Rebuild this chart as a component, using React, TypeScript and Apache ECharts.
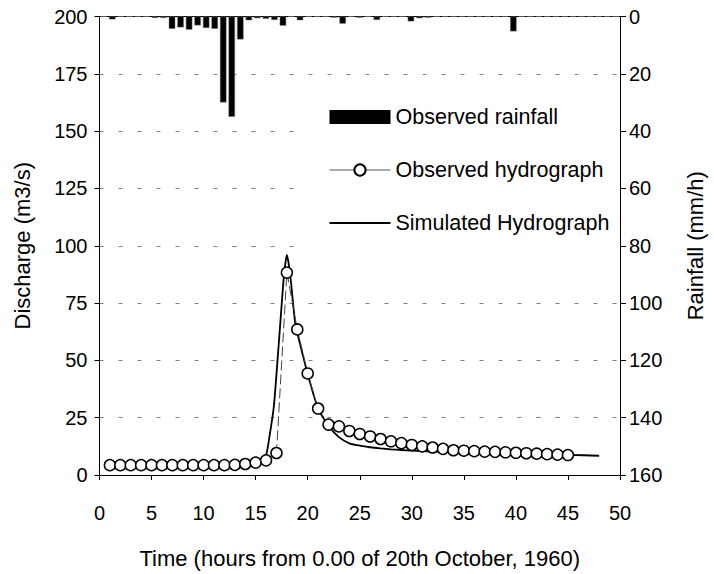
import React, { useEffect, useRef } from "react";
import * as echarts from "echarts";

// Rainfall (mm/h) on 61 equal time steps spanning the 50-hour window
const rainSteps: string[] = [
  "0", "1", "2", "3", "4", "5", "6", "7", "8", "9",
  "10", "11", "12", "13", "14", "15", "16", "17", "18", "19",
  "20", "21", "22", "23", "24", "25", "26", "27", "28", "29",
  "30", "31", "32", "33", "34", "35", "36", "37", "38", "39",
  "40", "41", "42", "43", "44", "45", "46", "47", "48", "49",
  "50", "51", "52", "53", "54", "55", "56", "57", "58", "59", "60",
];
const rainfall: number[] = [
  0, 1.0, 0, 0, 0, 0, 0.5, 0.5, 4.3, 3.8,
  4.6, 3.1, 4.0, 4.3, 30, 35, 8, 1.3, 0.6, 0.8,
  1.2, 3.2, 0, 1.3, 0, 0, 0, 0.4, 2.5, 0,
  0.4, 0, 1.2, 0, 0, 0, 1.7, 0.6, 0.4, 0,
  0, 0, 0, 0, 0, 0, 0, 0, 5.2, 0,
  0, 0, 0, 0, 0, 0, 0, 0, 0, 0, 0,
];

// Observed hydrograph (hours, m3/s)
const obsHours: number[] = [
  1, 2, 3, 4, 5, 6, 7, 8, 9, 10, 11, 12, 13, 14, 15, 16, 17, 18, 19, 20,
  21, 22, 23, 24, 25, 26, 27, 28, 29, 30, 31, 32, 33, 34, 35, 36, 37, 38, 39, 40,
  41, 42, 43, 44, 45,
];
const obsDischarge: number[] = [
  4.3, 4.3, 4.3, 4.3, 4.3, 4.3, 4.3, 4.3, 4.3, 4.3, 4.3, 4.3, 4.4, 4.8, 5.4, 6.4, 9.6, 88.3, 63.5, 44.3,
  29, 22, 21.2, 19.2, 17.9, 16.8, 15.7, 14.7, 13.9, 13.1, 12.5, 12, 11.4, 10.8, 10.6, 10.4, 10.2, 10.1, 9.9, 9.7,
  9.5, 9.3, 9.1, 8.9, 8.7,
];

// Simulated hydrograph (hours, m3/s)
const simHours: number[] = [
  1, 5, 10, 14, 15, 15.5, 16, 16.3, 16.75, 17.25, 17.7, 18, 18.3, 18.8, 19, 20, 21, 22, 23, 24,
  25, 26, 27, 28, 29, 30, 32, 35, 38, 40, 43, 45, 48,
];
const simDischarge: number[] = [
  4.3, 4.3, 4.3, 4.5, 5.2, 6.5, 8.7, 16, 30, 59, 86, 96, 88, 66, 62, 44, 29, 21.5, 16.5, 13.8,
  12.8, 12.1, 11.6, 11.2, 10.9, 10.6, 10.2, 9.8, 9.5, 9.3, 9, 8.8, 8.4,
];

const xTitle = "Time (hours from 0.00 of 20th October, 1960)";
const yLeftTitle = "Discharge (m3/s)";
const yRightTitle = "Rainfall (mm/h)";

export default function App() {
  const ref = useRef<HTMLDivElement>(null);
  useEffect(() => {
    if (!ref.current) return;
    const chart = echarts.init(ref.current, undefined, { renderer: "svg" });
    const font = "'Liberation Sans', Arial, sans-serif";
    const black = "#000";
    const option: any = {
      animation: false,
      backgroundColor: "#fff",
      textStyle: { fontFamily: font, color: black },
      grid: { left: 99.5, right: 91.3, top: 16.5, bottom: 98.5, containLabel: false },
      legend: {
        orient: "vertical",
        left: 300,
        top: 93,
        backgroundColor: "#fff",
        padding: [13, 10, 20, 29],
        itemWidth: 61,
        itemHeight: 14,
        itemGap: 31,
        z: 1,
        textStyle: { fontSize: 21.5, color: black, fontFamily: font },
        data: [
          { name: "Observed rainfall", icon: "rect", itemStyle: { borderWidth: 0, color: black } },
          { name: "Observed hydrograph", lineStyle: { type: "solid", color: "#555", width: 1 } },
          { name: "Simulated Hydrograph", icon: "path://M0,0H100V3.2H0Z", itemStyle: { color: black } },
        ],
      },
      xAxis: [
        {
          type: "value",
          min: 0,
          max: 50,
          interval: 5,
          position: "bottom",
          axisLine: { show: true, lineStyle: { color: black, width: 1 } },
          axisTick: { show: true, inside: false, length: 5, lineStyle: { color: black } },
          axisLabel: { fontSize: 20, color: black, margin: 28, fontFamily: font },
          splitLine: { show: false },
          name: xTitle,
          nameLocation: "middle",
          nameGap: 72,
          nameTextStyle: { fontSize: 22, color: black, fontFamily: font },
        },
        {
          type: "category",
          data: rainSteps,
          position: "top",
          boundaryGap: true,
          axisLine: { show: true, lineStyle: { color: black, width: 1 } },
          axisTick: { show: false },
          axisLabel: { show: false },
          splitLine: { show: false },
        },
      ],
      yAxis: [
        {
          type: "value",
          min: 0,
          max: 200,
          interval: 25,
          position: "left",
          axisLine: { show: true, lineStyle: { color: black, width: 1 } },
          axisTick: { show: true, inside: false, length: 5, lineStyle: { color: black } },
          axisLabel: { fontSize: 20, color: black, margin: 12, fontFamily: font, padding: [8, 0, 0, 0] },
          splitLine: { show: true, lineStyle: { color: "#808080", type: [4, 15], width: 1 } },
          name: yLeftTitle,
          nameLocation: "middle",
          nameRotate: 90,
          nameGap: 66,
          nameTextStyle: { fontSize: 22, color: black, fontFamily: font },
        },
        {
          type: "value",
          min: 0,
          max: 160,
          interval: 20,
          position: "right",
          inverse: true,
          z: 5,
          axisLine: { show: true, lineStyle: { color: black, width: 1 } },
          axisTick: { show: true, inside: false, length: 6, lineStyle: { color: black } },
          axisLabel: { fontSize: 20, color: black, margin: 9, fontFamily: font, padding: [8, 0, 0, 0] },
          splitLine: { show: false },
          name: yRightTitle,
          nameLocation: "middle",
          nameRotate: 90,
          nameGap: 64,
          nameTextStyle: { fontSize: 22, color: black, fontFamily: font },
        },
      ],
      series: [
        {
          type: "bar",
          name: "Observed rainfall",
          xAxisIndex: 1,
          yAxisIndex: 1,
          data: rainfall,
          barWidth: "76%",
          itemStyle: { color: black, borderColor: "#777", borderWidth: 0.5 },
          z: 2,
        },
        {
          type: "line",
          name: "Simulated Hydrograph",
          xAxisIndex: 0,
          yAxisIndex: 0,
          data: simHours.map((h, i) => [h, simDischarge[i]]),
          symbol: "none",
          smooth: 0.2,
          lineStyle: { color: black, width: 1.8 },
          itemStyle: { color: black },
          z: 3,
        },
        {
          type: "line",
          name: "Observed hydrograph",
          xAxisIndex: 0,
          yAxisIndex: 0,
          data: obsHours.map((h, i) => [h, obsDischarge[i]]),
          symbol: "circle",
          symbolSize: 11,
          itemStyle: { color: "#fff", borderColor: black, borderWidth: 1.5 },
          lineStyle: { color: "#444", width: 1, type: [10, 4] },
          z: 4,
        },
      ],
    };
    chart.setOption(option);
    return () => chart.dispose();
  }, []);
  return (
    <div
      ref={ref}
      style={{ position: "fixed", left: 0, top: 0, width: 714, height: 574 }}
    />
  );
}
